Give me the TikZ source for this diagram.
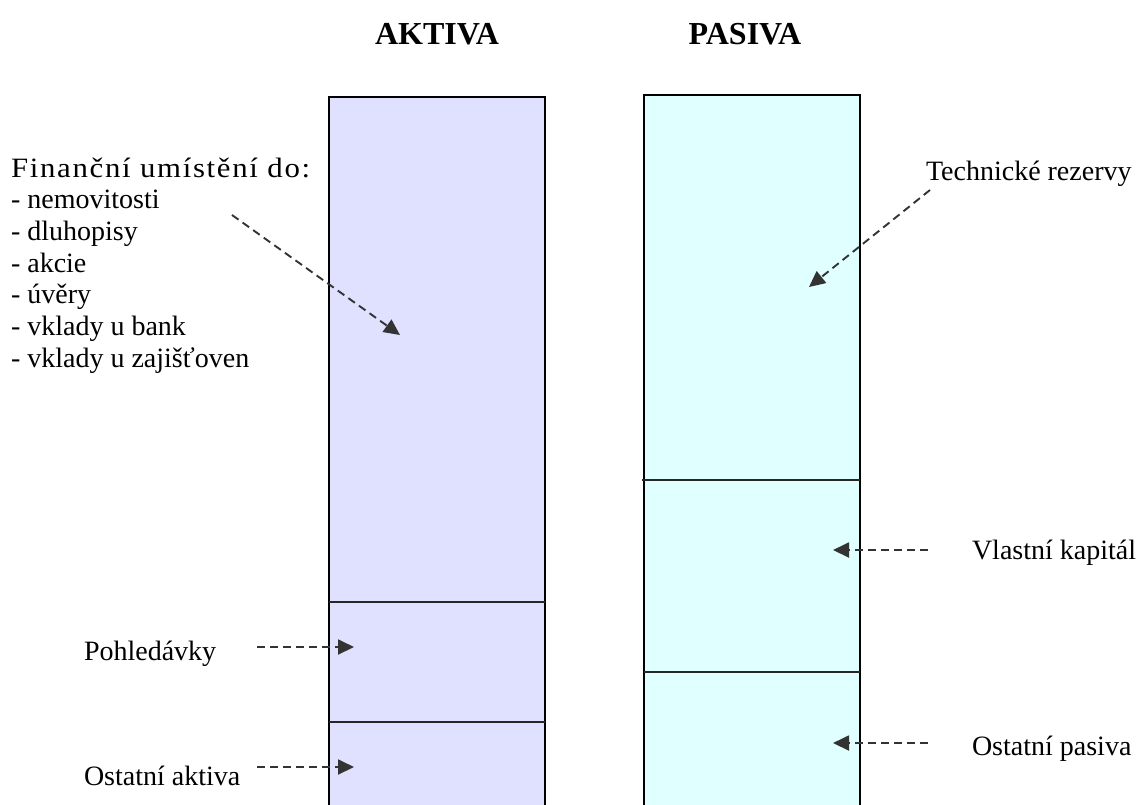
\documentclass[tikz,border=0pt]{standalone}
\usepackage{fontspec}
\usepackage{graphicx}
\setmainfont{Liberation Serif}
\usetikzlibrary{arrows.meta}
\definecolor{aktfill}{RGB}{224,224,255}
\definecolor{pasfill}{RGB}{224,255,255}
\definecolor{arrowgray}{RGB}{51,51,51}
\begin{document}
\begin{tikzpicture}[x=1pt,y=-1pt,
  lbl/.style={inner sep=0pt,outer sep=0pt,font=\fontsize{28}{31.7}\selectfont},
  ttl/.style={inner sep=0pt,outer sep=0pt,font=\fontsize{32}{36}\selectfont\bfseries},
  border/.style={line width=2.6pt,black},
  divider/.style={line width=2pt,black!85},
  ptr/.style={draw=arrowgray,line width=1.9pt,dash pattern=on 8pt off 5pt,
    -{Triangle[length=16pt,width=15pt]}}]
\useasboundingbox (0,0) rectangle (1139,804);
% boxes
\fill[aktfill] (329,97) rectangle (545,806);
\fill[pasfill] (644,95) rectangle (860,806);
\draw[border] (329,806) -- (329,97) -- (545,97) -- (545,806);
\draw[border] (644,806) -- (644,95) -- (860,95) -- (860,806);
\draw[divider] (329,602) -- (545,602);
\draw[divider] (329,722) -- (545,722);
\draw[divider] (642,480) -- (860,480);
\draw[divider] (644,672) -- (860,672);
% titles
\node[ttl,anchor=base] (akt) at (437,44) {AKTIVA};
\node[ttl,anchor=base] (pas) at (745,44) {PASIVA};
% labels
\node[lbl,anchor=base west] (fin) at (11,177) {\begin{tabular}[t]{@{}l@{}}\scalebox{1.1}[1]{\addfontfeatures{LetterSpace=5.5}Finanční umístění do:}\\- nemovitosti\\- dluhopisy\\- akcie\\- úvěry\\- vklady u bank\\- vklady u zajišťoven\end{tabular}};
\node[lbl,anchor=base west] (poh) at (84,660) {Pohledávky};
\node[lbl,anchor=base west] (ost) at (84,785) {Ostatní aktiva};
\node[lbl,anchor=base west] (tech) at (926,180) {Technické rezervy};
\node[lbl,anchor=base west] (vk) at (972,559) {Vlastní kapitál};
\node[lbl,anchor=base west] (op) at (972,755) {Ostatní pasiva};
% pointer ends
\coordinate (finS) at (232,215);
\coordinate (finT) at (400,335);
\coordinate (techS) at (930,190);
\coordinate (techT) at (809,287);
\coordinate (pohS) at (257,647);
\coordinate (pohT) at (354,647);
\coordinate (ostS) at (257,767);
\coordinate (ostT) at (354,767);
\coordinate (vkS) at (928,550);
\coordinate (vkT) at (833,550);
\coordinate (opS) at (928,743);
\coordinate (opT) at (833,743);
\draw[ptr] (finS) -- (finT);
\draw[ptr] (techS) -- (techT);
\draw[ptr] (pohS) -- (pohT);
\draw[ptr] (ostS) -- (ostT);
\draw[ptr] (vkS) -- (vkT);
\draw[ptr] (opS) -- (opT);
\end{tikzpicture}
\end{document}
